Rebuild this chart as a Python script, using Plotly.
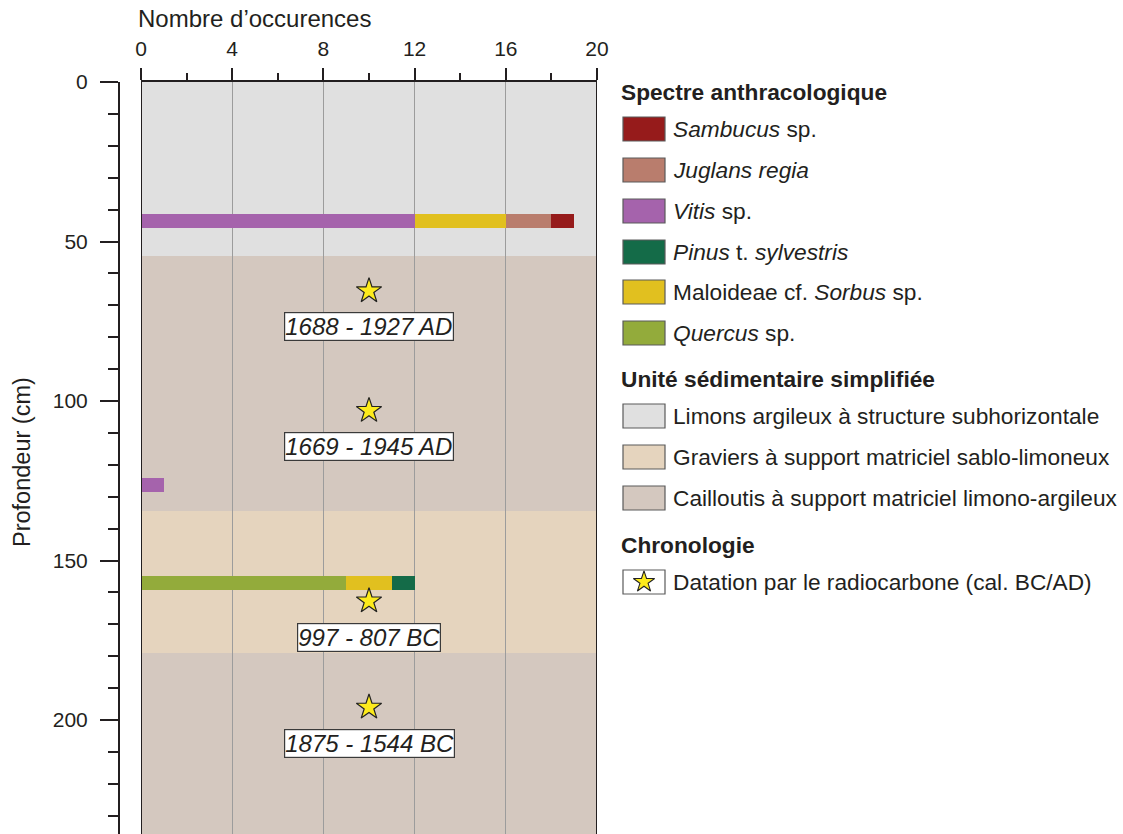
import plotly.graph_objects as go

W, H = 1123, 834
FONT = "Liberation Sans, Arial, sans-serif"
TXT = "#231f20"

# ---------------- data ----------------
bar_depths = [43.5, 126.3, 157.0]           # cm
quercus    = [0, 0, 9]
vitis      = [12, 1, 0]
maloideae  = [4, 0, 2]
pinus      = [0, 0, 1]
juglans    = [2, 0, 0]
sambucus   = [1, 0, 0]

layer_tops    = [0, 54.5, 134.5, 179.0]
layer_bottoms = [54.5, 134.5, 179.0, 240.0]
layer_kinds   = ["limons", "cailloutis", "graviers", "cailloutis"]

date_depths = [65.5, 103.0, 162.7, 196.0]
date_x      = [10, 10, 10, 10]
date_labels = ["1688 - 1927 AD", "1669 - 1945 AD", "997 - 807 BC", "1875 - 1544 BC"]

x_ticks = [0, 4, 8, 12, 16, 20]
y_ticks = [0, 50, 100, 150, 200]

# ---------------- styles ----------------
sp_colors = {
    "sambucus": "#961b1b", "juglans": "#b97d6d", "vitis": "#a563ac",
    "pinus": "#146b48", "maloideae": "#e1c01f", "quercus": "#93ab3b",
}
layer_colors = {"limons": "#e0e0e0", "graviers": "#e5d4be", "cailloutis": "#d4c8bf"}

fig = go.Figure()

stack = [("quercus", quercus), ("vitis", vitis), ("maloideae", maloideae),
         ("pinus", pinus), ("juglans", juglans), ("sambucus", sambucus)]
for name, vals in stack:
    fig.add_trace(go.Bar(
        y=bar_depths, x=vals, orientation="h", width=4.5,
        marker=dict(color=sp_colors[name], line=dict(width=0)),
        name=name, showlegend=False,
    ))

fig.add_trace(go.Scatter(
    x=date_x, y=date_depths, mode="markers",
    marker=dict(symbol="star", size=19, color="#fdeb1c", line=dict(color="#222", width=1.2)),
    showlegend=False,
))

shapes = []
for t, b, k in zip(layer_tops, layer_bottoms, layer_kinds):
    shapes.append(dict(type="rect", xref="x", yref="y", x0=x_ticks[0], x1=x_ticks[-1],
                       y0=t, y1=b, fillcolor=layer_colors[k], line=dict(width=0), layer="below"))

y_top_dom = 1 - 82 / H
for xv in (x_ticks[0], x_ticks[-1]):
    shapes.append(dict(type="line", xref="x", yref="paper", x0=xv, x1=xv, y0=0, y1=y_top_dom,
                       line=dict(color=TXT, width=2), layer="above"))

annotations = []
for xv, d, lab in zip(date_x, date_depths, date_labels):
    annotations.append(dict(x=xv, y=d, xref="x", yref="y", yshift=-36, text=f"<i>{lab}</i>",
                            showarrow=False, font=dict(size=24, color=TXT, family=FONT),
                            bgcolor="white", bordercolor="#3a3a3a", borderwidth=1.2, borderpad=0))

# axis titles
annotations.append(dict(x=136 / W, y=1 - 19 / H, xref="paper", yref="paper", xanchor="left",
                        yanchor="middle", text="Nombre d’occurences", showarrow=False,
                        font=dict(size=24, color=TXT, family=FONT)))
annotations.append(dict(x=22 / W, y=1 - 462 / H, xref="paper", yref="paper", xanchor="center",
                        yanchor="middle", text="Profondeur (cm)", textangle=-90, showarrow=False,
                        font=dict(size=23.5, color=TXT, family=FONT)))

# ---------------- legend (pixel overlay axes x2/y2) ----------------
legend_sections = [
    ("Spectre anthracologique", 92, [
        ("<i>Sambucus</i> sp.", sp_colors["sambucus"], 129),
        ("<i>Juglans regia</i>", sp_colors["juglans"], 170),
        ("<i>Vitis</i> sp.", sp_colors["vitis"], 211),
        ("<i>Pinus</i> t. <i>sylvestris</i>", sp_colors["pinus"], 252),
        ("Maloideae cf. <i>Sorbus</i> sp.", sp_colors["maloideae"], 292),
        ("<i>Quercus</i> sp.", sp_colors["quercus"], 333),
    ]),
    ("Unité sédimentaire simplifiée", 379, [
        ("Limons argileux à structure subhorizontale", layer_colors["limons"], 416),
        ("Graviers à support matriciel sablo-limoneux", layer_colors["graviers"], 457),
        ("Cailloutis à support matriciel limono-argileux", layer_colors["cailloutis"], 498),
    ]),
    ("Chronologie", 545, [
        ("Datation par le radiocarbone (cal. BC/AD)", "white", 582),
    ]),
]
for title, ty, items in legend_sections:
    annotations.append(dict(x=619, y=ty, xref="x2", yref="y2", xanchor="left", yanchor="middle",
                            text=f"<b>{title}</b>", showarrow=False,
                            font=dict(size=22.7, color=TXT, family=FONT)))
    for lab, col, iy in items:
        shapes.append(dict(type="rect", xref="x2", yref="y2", x0=623, x1=665, y0=iy - 12, y1=iy + 12,
                           fillcolor=col, line=dict(color="#5a5a5a", width=1.2), layer="below"))
        annotations.append(dict(x=671, y=iy, xref="x2", yref="y2", xanchor="left", yanchor="middle",
                                text=lab, showarrow=False, font=dict(size=22.7, color=TXT, family=FONT)))

fig.add_trace(go.Scatter(x=[644], y=[582], xaxis="x2", yaxis="y2", mode="markers",
                         marker=dict(symbol="star", size=16, color="#fdeb1c",
                                     line=dict(color="#222", width=1.1)),
                         showlegend=False, hoverinfo="skip"))

fig.update_layout(
    width=W, height=H, margin=dict(l=0, r=0, t=0, b=0, autoexpand=False),
    paper_bgcolor="white", plot_bgcolor="rgba(0,0,0,0)",
    barmode="stack", bargap=0, showlegend=False,
    font=dict(family=FONT, color=TXT, size=21),
    xaxis=dict(domain=[141 / W, 597 / W], range=[x_ticks[0], x_ticks[-1]], side="top", anchor="y",
               tickvals=x_ticks, ticks="outside", ticklen=12, tickwidth=2, tickcolor=TXT,
               showline=True, linewidth=2, linecolor=TXT, showgrid=True, gridcolor="#9c9c9c",
               gridwidth=1, zeroline=False, tickfont=dict(size=21, color=TXT), automargin=False,
               minor=dict(dtick=2, ticks="outside", ticklen=7, tickwidth=2, tickcolor=TXT, showgrid=False),
               ticklabelstandoff=4, fixedrange=True),
    yaxis=dict(domain=[0, y_top_dom], range=[235.7, 0], anchor="free", position=119 / W,
               tickvals=y_ticks, ticks="outside", ticklen=18, tickwidth=2, tickcolor=TXT,
               showline=True, linewidth=2, linecolor=TXT, showgrid=False, zeroline=False,
               tickfont=dict(size=21, color=TXT), automargin=False,
               minor=dict(dtick=10, tick0=0, ticks="outside", ticklen=10, tickwidth=2, tickcolor=TXT),
               ticklabelstandoff=8, fixedrange=True),
    xaxis2=dict(domain=[0, 1], range=[0, W], visible=False, anchor="y2", fixedrange=True, automargin=False),
    yaxis2=dict(domain=[0, 1], range=[H, 0], visible=False, anchor="x2", fixedrange=True, automargin=False),
    shapes=shapes, annotations=annotations,
)

fig.write_html("out.html", config={"displayModeBar": False},
               post_script="document.body.style.margin='0';document.body.style.padding='0';document.body.style.overflow='hidden';")
